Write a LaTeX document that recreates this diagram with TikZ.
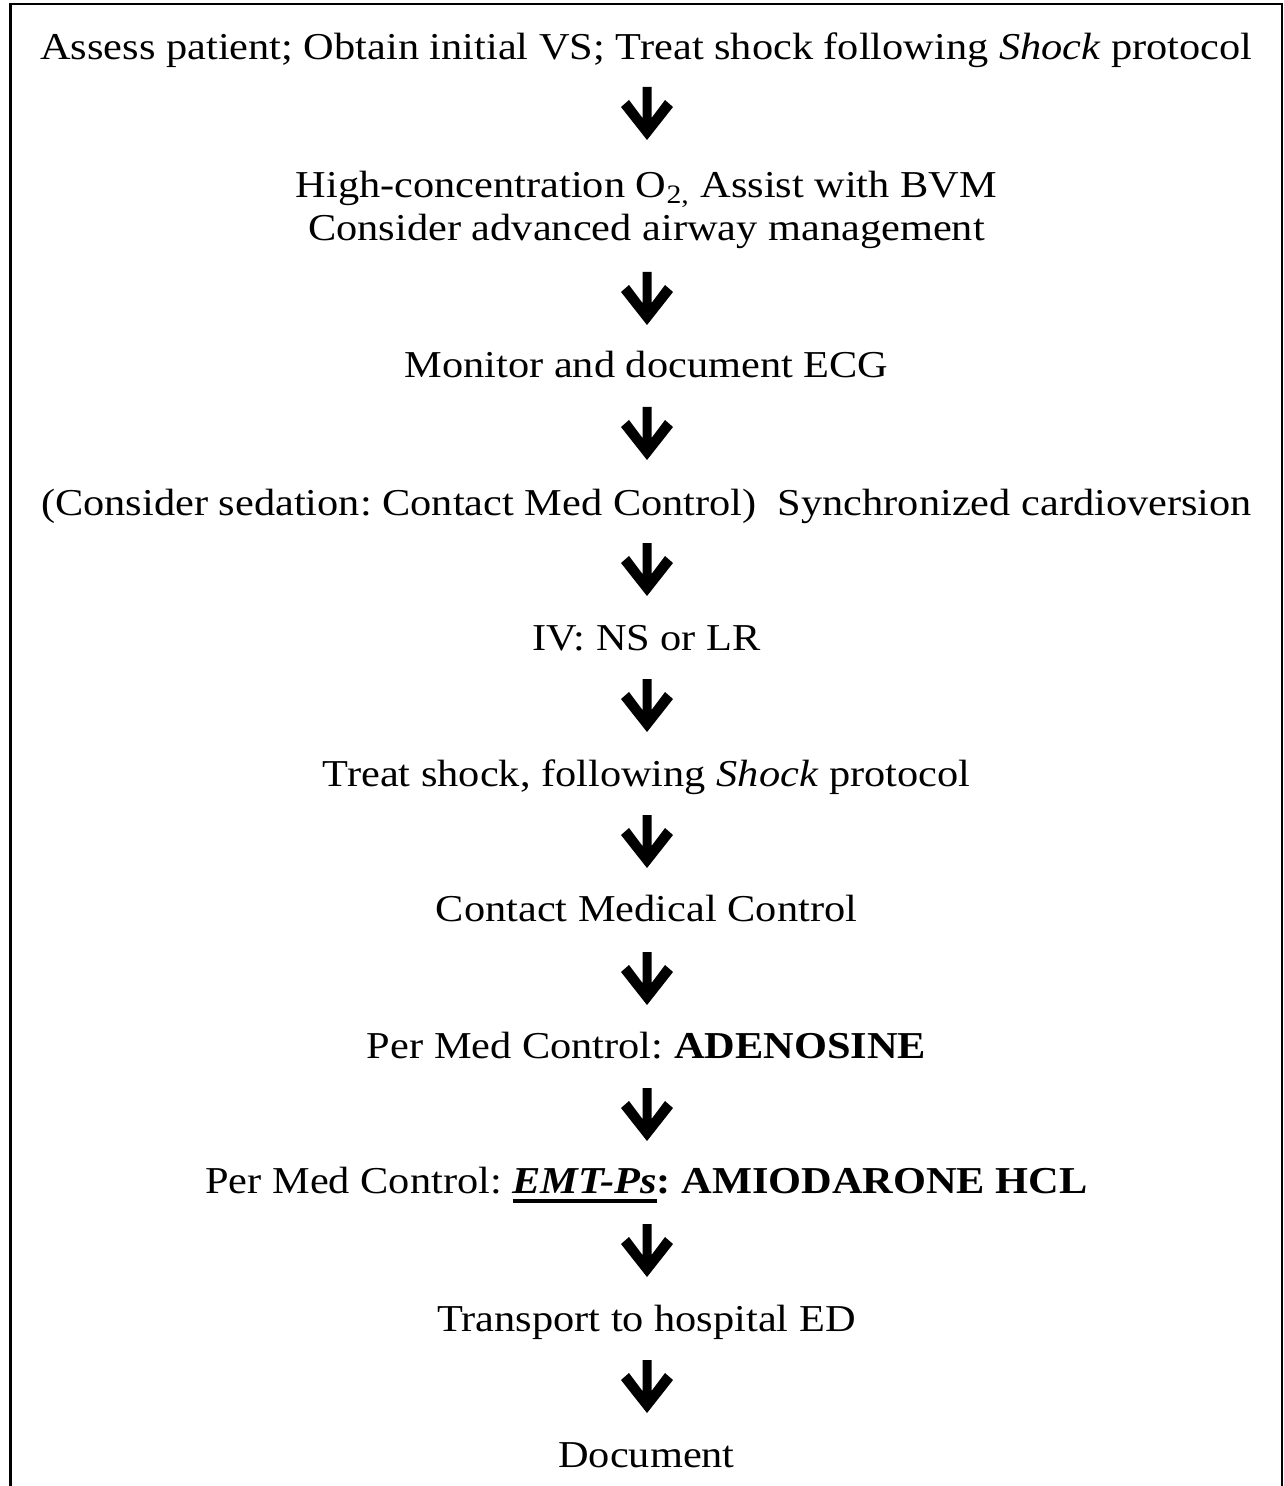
\documentclass[tikz,border=0pt]{standalone}
\usepackage{fontspec}
\setmainfont{Liberation Serif}
% text is set slightly wide, as in the printed form
\newcommand\hstretch[1]{\scalebox{1.115}[1]{#1}}
% heavy underline
\newcommand\thickul[1]{{\setbox0=\hbox{#1}\copy0\llap{\rule[-5.2pt]{\wd0}{2.2pt}}}}

\begin{document}
\frenchspacing
\begin{tikzpicture}[x=0.5pt,y=-0.5pt,
  steptext/.style={anchor=base, inner sep=0pt, font=\fontsize{19}{23}\selectfont},
  frame/.style={line width=1.1pt, line cap=butt},
  downarrow/.pic={\fill (-4.5,0) -- (4.5,0) -- (4.5,31) -- (18,13) -- (26,20) -- (0,53)
                        -- (-26,20) -- (-18,13) -- (-4.5,31) -- cycle;}]
\useasboundingbox (0,0) rectangle (1283,1486);

% open-bottom frame
\draw[frame] (10.5,1500) -- (10.5,4.2) -- (1282,4.2) -- (1282,1500);

\node[steptext] (s1) at (646.5,60) {\hstretch{Assess patient; Obtain initial VS; Treat shock following \textit{Shock} protocol}};
\node[steptext] (s2a) at (646.5,198) {\hstretch{High-concentration O\textsubscript{2,} Assist with BVM}};
\node[steptext] (s2b) at (646.5,241) {\hstretch{Consider advanced airway management}};
\node[steptext] (s3) at (646.5,378) {\hstretch{Monitor and document ECG}};
\node[steptext] (s4) at (646.5,515) {\hstretch{(Consider sedation: Contact Med Control)\ \ Synchronized cardioversion}};
\node[steptext] (s5) at (646.5,650) {\hstretch{IV: NS or LR}};
\node[steptext] (s6) at (646.5,786) {\hstretch{Treat shock, following \textit{Shock} protocol}};
\node[steptext] (s7) at (646.5,921) {\hstretch{Contact Medical Control}};
\node[steptext] (s8) at (646.5,1058) {\hstretch{Per Med Control: \textbf{ADENOSINE}}};
\node[steptext] (s9) at (646.5,1193) {\hstretch{Per Med Control: \thickul{\textbf{\textit{EMT-Ps}}}\textbf{: AMIODARONE HCL}}};
\node[steptext] (s10) at (646.5,1331) {\hstretch{Transport to hospital ED}};
\node[steptext] (s11) at (646.5,1467) {\hstretch{Document}};

% arrows between the steps
\path (s1.base)  ++(0.5,27) pic {downarrow};
\path (s2b.base) ++(0.5,31) pic {downarrow};
\path (s3.base)  ++(0.5,29) pic {downarrow};
\path (s4.base)  ++(0.5,28) pic {downarrow};
\path (s5.base)  ++(0.5,29) pic {downarrow};
\path (s6.base)  ++(0.5,29) pic {downarrow};
\path (s7.base)  ++(0.5,31) pic {downarrow};
\path (s8.base)  ++(0.5,30) pic {downarrow};
\path (s9.base)  ++(0.5,31) pic {downarrow};
\path (s10.base) ++(0.5,29) pic {downarrow};
\end{tikzpicture}
\end{document}
